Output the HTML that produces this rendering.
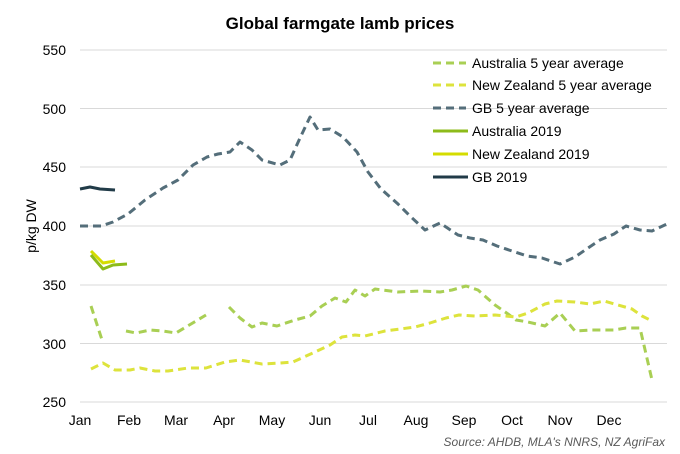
<!DOCTYPE html>
<html><head><meta charset="utf-8"><style>body{margin:0;background:#fff}svg{display:block;font-family:"Liberation Sans",sans-serif}</style></head><body>
<svg width="680" height="454" viewBox="0 0 680 454">
<rect width="680" height="454" fill="#fff"/>
<text x="340" y="29" text-anchor="middle" font-size="17" font-weight="bold">Global farmgate lamb prices</text>
<g stroke="#d9d9d9" stroke-width="1">
<line x1="80" x2="667" y1="50" y2="50"/><line x1="80" x2="667" y1="108.5" y2="108.5"/><line x1="80" x2="667" y1="167" y2="167"/><line x1="80" x2="667" y1="226" y2="226"/><line x1="80" x2="667" y1="285" y2="285"/><line x1="80" x2="667" y1="343.5" y2="343.5"/><line x1="80" x2="667" y1="402" y2="402"/>
</g>
<g font-size="14" text-anchor="end" fill="#000">
<text x="66" y="55">550</text><text x="66" y="114">500</text><text x="66" y="172">450</text><text x="66" y="231">400</text><text x="66" y="290">350</text><text x="66" y="349">300</text><text x="66" y="407">250</text>
</g>
<text transform="translate(36 226) rotate(-90)" text-anchor="middle" font-size="14">p/kg DW</text>
<g font-size="14" text-anchor="middle">
<text x="80" y="425">Jan</text><text x="129" y="425">Feb</text><text x="176" y="425">Mar</text><text x="224" y="425">Apr</text><text x="272" y="425">May</text><text x="320" y="425">Jun</text><text x="368" y="425">Jul</text><text x="416" y="425">Aug</text><text x="464" y="425">Sep</text><text x="512" y="425">Oct</text><text x="560" y="425">Nov</text><text x="609" y="425">Dec</text>
</g>
<text x="665" y="446" text-anchor="end" font-size="12" font-style="italic" fill="#595959">Source: AHDB, MLA's NNRS, NZ AgriFax</text>
<g fill="none" stroke-width="3" stroke-dasharray="8,5" stroke-linejoin="round">
<polyline stroke="#546e7a" points="80,226 101,226 113,222 128,214 145,200 163,188 178,180 193,165 207,157 218,154 230,152 240,142 252,150 262,160 280,165 290,160 300,138 310,117 318,130 330,129 343,137 357,152 368,172 381,189 398,204 410,216 425,230 440,223 458,235 470,238 483,240 497,246 512,251 527,256 542,258 560,264 575,257 588,248 600,240 614,234 626,226 640,230 652,231 667,224"/>
<polyline stroke="#a9cf54" points="91,306 103,343"/>
<polyline stroke="#a9cf54" points="126,331 136,333 150,330 163,331 176,333 191,324 206,315"/>
<polyline stroke="#a9cf54" points="229,307 240,318 252,327 262,323 277,326 295,320 310,316 322,306 335,298 346,302 355,290 365,296 375,289 398,292 420,291 440,292 452,290 466,286 478,290 495,305 508,314 516,320 528,322 545,326 560,313 575,331 592,330 614,330 626,328 640,328 652,380"/>
<polyline stroke="#dde33c" points="91,369 103,363 115,370 130,370 140,368 155,371 168,371 188,368 206,368 225,362 240,360 262,364 280,363 293,362 315,352 330,345 342,337 355,335 365,336 385,331 400,329 415,327 430,323 446,318 459,315 475,316 495,315 516,317 528,313 545,304 557,301 575,302 590,304 604,301 618,305 632,309 642,316 652,321"/>
</g>
<g fill="none" stroke-width="3" stroke-linejoin="round">
<polyline stroke="#d4dc00" points="91,251 103,263 115,261"/>
<polyline stroke="#8dbb1a" points="91,255 103,269 113,265 127,264"/>
<polyline stroke="#213b48" points="80,189 90,187 100,189 115,190"/>
</g>
<rect x="420" y="52" width="248" height="140" fill="#fff" opacity="0"/>
<g font-size="14">
<line x1="433" x2="466" y1="63" y2="63" stroke="#a9cf54" stroke-width="3" stroke-dasharray="8,5"/><text x="472" y="68">Australia 5 year average</text>
<line x1="433" x2="466" y1="85" y2="85" stroke="#dde33c" stroke-width="3" stroke-dasharray="8,5"/><text x="472" y="90">New Zealand 5 year average</text>
<line x1="433" x2="466" y1="108" y2="108" stroke="#546e7a" stroke-width="3" stroke-dasharray="8,5"/><text x="472" y="113">GB 5 year average</text>
<line x1="433" x2="468" y1="131" y2="131" stroke="#8dbb1a" stroke-width="3"/><text x="472" y="136">Australia 2019</text>
<line x1="433" x2="468" y1="154" y2="154" stroke="#d4dc00" stroke-width="3"/><text x="472" y="159">New Zealand 2019</text>
<line x1="433" x2="468" y1="177" y2="177" stroke="#213b48" stroke-width="3"/><text x="472" y="182">GB 2019</text>
</g>
</svg>
</body></html>
